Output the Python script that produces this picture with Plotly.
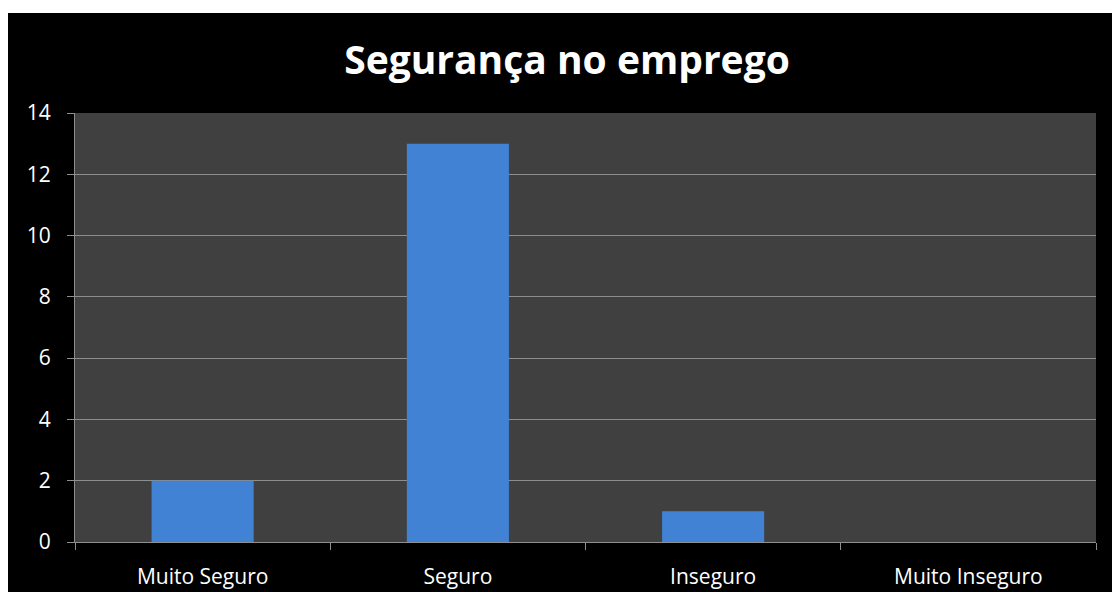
import plotly.graph_objects as go

categories = ["Muito Seguro", "Seguro", "Inseguro", "Muito Inseguro"]
counts = [2, 13, 1, 0]
y_ticks = [0, 2, 4, 6, 8, 10, 12, 14]

W, H = 1112, 592
ML, MR, MT, MB = 75, 16, 113, 50
PW, PH = W - ML - MR, H - MT - MB


def px_x(px):
    return (px - ML) / PW


def px_y(py):
    return (H - MB - py) / PH


fig = go.Figure()
fig.add_trace(go.Bar(
    x=categories,
    y=counts,
    marker=dict(color="#4282d4", line=dict(width=0)),
    hoverinfo="x+y",
))

font_family = "'Open Sans', sans-serif"

fig.update_layout(
    width=W, height=H,
    margin=dict(l=ML, r=MR, t=MT, b=MB),
    paper_bgcolor="#000000",
    plot_bgcolor="#404040",
    bargap=0.6,
    showlegend=False,
    title=dict(
        text="<b>Segurança no emprego</b>",
        font=dict(family=font_family, size=39, color="#ffffff"),
        x=px_x(567), xref="paper", xanchor="center",
        y=1 - 60 / H, yanchor="middle",
    ),
    xaxis=dict(
        showgrid=False,
        showline=True, linecolor="#8e8e8e", linewidth=1,
        ticks="outside", tickson="boundaries", ticklen=7, tickcolor="#8e8e8e",
        ticklabelstandoff=16,
        tickfont=dict(family=font_family, size=21, color="#ffffff"),
        automargin=False,
        fixedrange=True,
    ),
    yaxis=dict(
        range=[0, 14],
        tickvals=y_ticks,
        showgrid=True, gridcolor="#8e8e8e", gridwidth=1,
        showline=True, linecolor="#8e8e8e", linewidth=1,
        ticks="outside", ticklen=7, tickcolor="#8e8e8e",
        ticklabelstandoff=12,
        tickfont=dict(family=font_family, size=21, color="#ffffff"),
        zeroline=False,
        automargin=False,
        fixedrange=True,
    ),
    shapes=[
        # white frame strips along top and left edges
        dict(type="rect", xref="paper", yref="paper",
             x0=px_x(-5), x1=px_x(W + 5), y0=px_y(13), y1=px_y(-5),
             fillcolor="#ffffff", line=dict(width=0), layer="above"),
        dict(type="rect", xref="paper", yref="paper",
             x0=px_x(-5), x1=px_x(8), y0=px_y(H + 5), y1=px_y(-5),
             fillcolor="#ffffff", line=dict(width=0), layer="above"),
    ],
)

fig.write_html("out.html")
